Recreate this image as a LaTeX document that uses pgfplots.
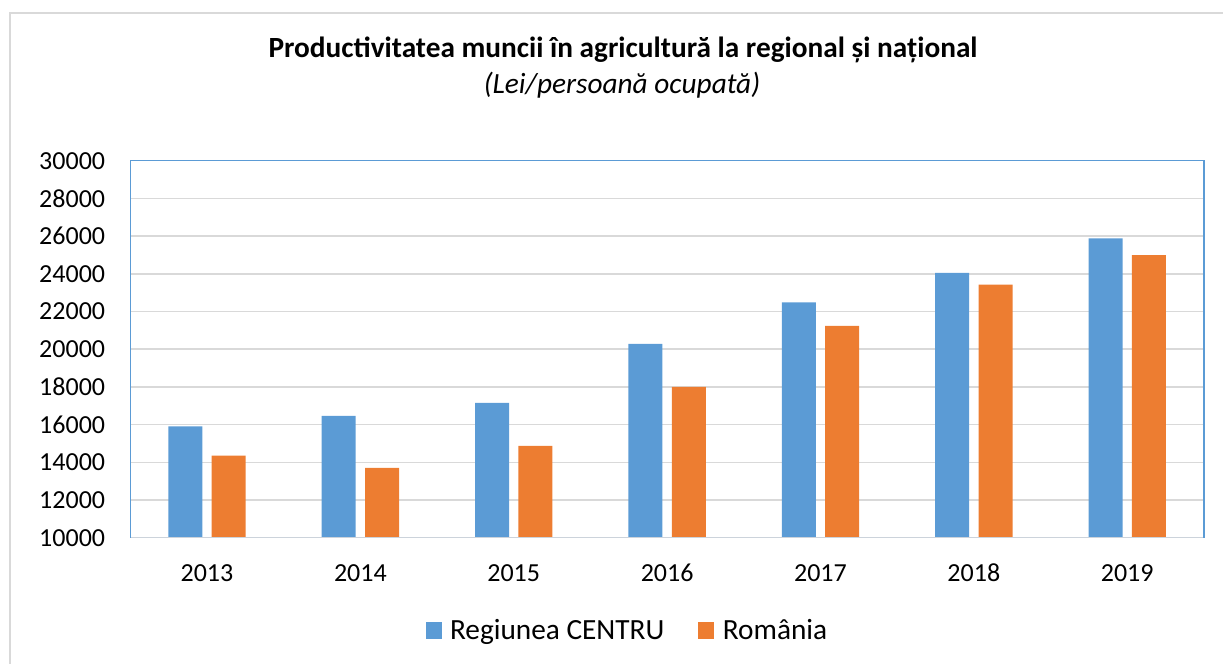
\documentclass[border=0pt]{standalone}
\usepackage{fontspec}
\setmainfont{Carlito}
\usepackage{pgfplots}
\pgfplotsset{compat=1.18}
\definecolor{cblue}{HTML}{5B9BD5}
\definecolor{corange}{HTML}{ED7D31}
\definecolor{gridgray}{HTML}{D9D9D9}
\definecolor{framegray}{HTML}{D9D9D9}
\definecolor{basegray}{HTML}{CCD3DB}
\begin{document}
\begin{tikzpicture}
\path[use as bounding box] (0bp,0bp) rectangle (1223bp,-664bp);
\draw[framegray, line width=2bp] (10bp,-664bp) -- (10bp,-13bp) -- (1223bp,-13bp);
\node[anchor=base, inner sep=0pt, font=\fontsize{29.3bp}{34bp}\selectfont\bfseries] at (623bp,-57.7bp) {Productivitatea muncii în agricultură la regional și național};
\node[anchor=base, inner sep=0pt, font=\fontsize{29.3bp}{34bp}\selectfont\itshape] at (622bp,-93bp) {(Lei/persoană ocupată)};
\begin{axis}[
  at={(130.3bp,-537.7bp)}, anchor=south west,
  scale only axis, width=1073.7bp, height=377bp,
  xmin=-0.5, xmax=6.5, ymin=10000, ymax=30000,
  ybar=9.4bp, bar width=34bp,
  xtick={0,...,6}, xticklabels={2013,2014,2015,2016,2017,2018,2019},
  ytick={10000,12000,...,30000},
  scaled y ticks=false,
  ymajorgrids, major grid style={gridgray, line width=1.5bp},
  major tick length=0pt,
  axis line style={draw=none},
  tick label style={font=\fontsize{26bp}{30bp}\selectfont},
  yticklabel style={anchor=east, inner sep=0pt, xshift=-25bp},
  xticklabel style={anchor=base, inner sep=0pt, yshift=-43.5bp},
  /pgf/number format/1000 sep={},
  /pgf/number format/assume math mode=true,
  legend style={at={(0.463,-0.245)}, anchor=center, draw=none, fill=none,
    legend columns=2, font=\fontsize{29.3bp}{34bp}\selectfont,
    /tikz/every even column/.append style={column sep=32bp}},
  legend image code/.code={\fill[#1] (0bp,-8.5bp) rectangle (16bp,8.5bp); \path (22.5bp,0bp);},
  after end axis/.code={
    \draw[basegray, line width=1.5bp] (rel axis cs:0,0) -- (rel axis cs:1,0);
    \draw[cblue, line width=1.5bp] (rel axis cs:0,0) -- (rel axis cs:0,1) -- (rel axis cs:1,1) -- (rel axis cs:1,0);
  },
]
\addplot[fill=cblue, draw=none] coordinates {(0,15900) (1,16460) (2,17150) (3,20280) (4,22480) (5,24050) (6,25880)};
\addplot[fill=corange, draw=none] coordinates {(0,14350) (1,13700) (2,14870) (3,18000) (4,21240) (5,23420) (6,24990)};
\legend{Regiunea CENTRU, România}
\end{axis}
\end{tikzpicture}
\end{document}
